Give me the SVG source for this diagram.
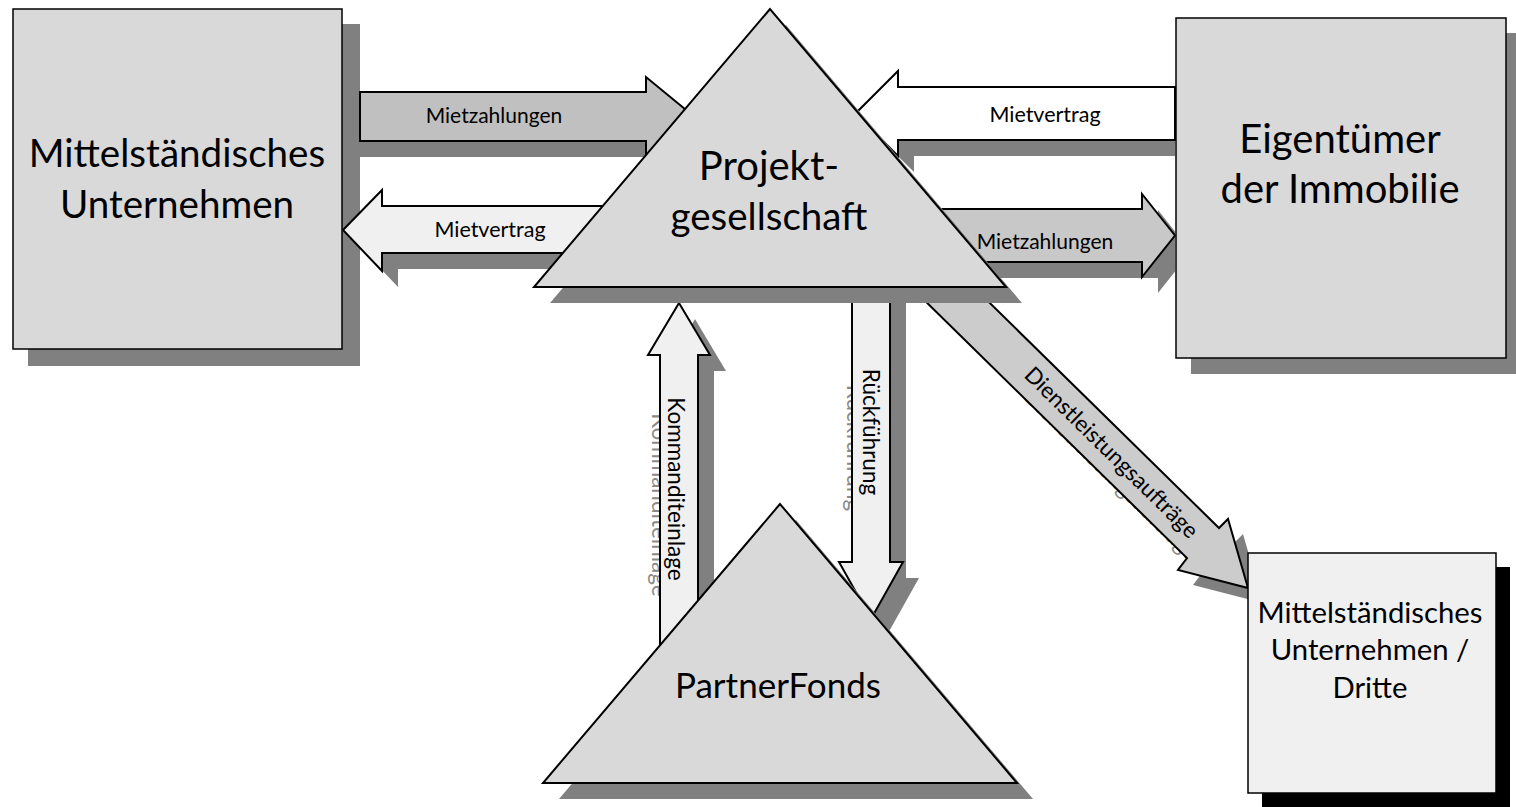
<svg xmlns="http://www.w3.org/2000/svg" width="1516" height="807" viewBox="0 0 1516 807">
<style>
.shadow{fill:#808080;stroke:none}
.box{fill:#d9d9d9;stroke:#000;stroke-width:1.5}
.tri{fill:#d9d9d9;stroke:#000;stroke-width:2;stroke-linejoin:miter}
.arr{stroke:#000;stroke-width:2;stroke-linejoin:miter}
.big{font-family:Lato,"Open Sans",sans-serif;font-size:40px;fill:#000;text-anchor:middle}
.lbl{font-family:Lato,"Open Sans",sans-serif;font-size:21px;fill:#000;text-anchor:middle}
.vlbl{font-family:Lato,"Open Sans",sans-serif;font-size:22.5px;fill:#000;text-anchor:middle}
.ghost{fill:#8a8a8a}
</style>
<rect width="1516" height="807" fill="#fff"/>

<g id="node-mittelstand">
  <rect class="shadow" x="28" y="24" width="332" height="342"/>
  <rect class="box" x="13" y="9" width="329" height="340"/>
  <text class="big" x="177" y="167" style="font-size:38.6px">Mittelständisches</text>
  <text class="big" x="177" y="218" style="font-size:38.6px">Unternehmen</text>
</g>

<g id="connectors">
  <!-- Mietzahlungen left -->
  <polygon class="shadow" points="360,108 662,108 662,93 710,132.5 662,172 662,157 360,157"/>
  <polygon class="arr" fill="#c0c0c0" points="360,92 646,92 646,77 694,116.5 646,156 646,141 360,141"/>
  <text class="lbl" x="494" y="123">Mietzahlungen</text>

  <!-- Mietvertrag left -->
  <polygon class="shadow" points="359,246 398,206 398,222 636,222 636,269 398,269 398,287"/>
  <polygon class="arr" fill="#f0f0f0" points="343,230 382,190 382,206 620,206 620,253 382,253 382,271"/>
  <text class="lbl" x="490" y="237" style="font-size:21.5px">Mietvertrag</text>

  <!-- Mietvertrag right -->
  <polygon class="shadow" points="871,129.5 914,87 914,103 1175,103 1175,156 914,156 914,172"/>
  <polygon class="arr" fill="#ffffff" points="855.5,113.5 898,71 898,87 1175,87 1175,140 898,140 898,156"/>
  <text class="lbl" x="1045" y="122" style="font-size:21.5px">Mietvertrag</text>

  <!-- Mietzahlungen right -->
  <polygon class="shadow" points="946,225 1158,225 1158,210 1175,231.4 1175,271.6 1158,293 1158,278 946,278"/>
  <polygon class="arr" fill="#c8c8c8" points="930,209 1142,209 1142,194 1175,235.5 1142,277 1142,262 930,262"/>
  <text class="lbl" x="1045" y="249">Mietzahlungen</text>

  <!-- Kommanditeinlage (up) -->
  <polygon class="shadow" points="695,319 726,371 714,371 714,716 676,716 676,371 664,371"/>
  <text class="vlbl ghost" transform="translate(668,489) rotate(90)" x="16" y="16">Kommanditeinlage</text>
  <polygon class="arr" fill="#f0f0f0" points="679,303 710,355 698,355 698,700 660,700 660,355 648,355"/>
  <text class="vlbl" transform="translate(668,489) rotate(90)">Kommanditeinlage</text>

  <!-- Rückführung (down) -->
  <polygon class="shadow" points="868,296 906,296 906,578 919,578 887,635 855,578 868,578"/>
  <text class="vlbl ghost" transform="translate(863,432) rotate(90)" x="16" y="16">Rückführung</text>
  <polygon class="arr" fill="#f0f0f0" points="852,280 890,280 890,562 903,562 871,619 839,562 852,562"/>
  <text class="vlbl" transform="translate(863,432) rotate(90)">Rückführung</text>

  <!-- Dienstleistungsaufträge (diagonal) -->
  <polygon class="shadow" points="963,277 1234,543 1243,534 1263,603 1193,585 1202,573 931,307"/>
  <text class="vlbl ghost" transform="translate(1111,453) rotate(44.5)" x="16" y="23">Dienstleistungsaufträge</text>
  <polygon class="arr" fill="#cccccc" points="948,262 1219,528 1228,519 1248,588 1178,570 1187,558 916,292"/>
  <text class="vlbl" transform="translate(1111,453) rotate(44.5)" y="7">Dienstleistungsaufträge</text>
</g>

<g id="node-projekt">
  <polygon class="shadow" points="786,25 550,303 1022,303"/>
  <polygon class="tri" points="770,9 534,287 1006,287"/>
  <text class="big" x="769" y="180">Projekt-</text>
  <text class="big" x="769" y="230" style="font-size:38.5px">gesellschaft</text>
</g>

<g id="node-partnerfonds">
  <polygon class="shadow" points="796,520 559,799 1033,799"/>
  <polygon class="tri" points="780,504 543,783 1017,783"/>
  <text class="big" x="778" y="698" style="font-size:35px">PartnerFonds</text>
</g>

<g id="node-eigentuemer">
  <rect class="shadow" x="1191" y="33" width="330" height="341"/>
  <rect class="box" x="1176" y="18" width="330" height="340"/>
  <text class="big" x="1340" y="153">Eigentümer</text>
  <text class="big" x="1340" y="203">der Immobilie</text>
</g>

<g id="node-dritte">
  <rect x="1262" y="567" width="248" height="240" fill="#000"/>
  <rect class="box" x="1248" y="553" width="248" height="240" style="fill:#f0f0f0"/>
  <text class="big" x="1370" y="623" style="font-size:29.3px">Mittelständisches</text>
  <text class="big" x="1370" y="660" style="font-size:29.3px">Unternehmen /</text>
  <text class="big" x="1370" y="698" style="font-size:29.3px">Dritte</text>
</g>
</svg>
